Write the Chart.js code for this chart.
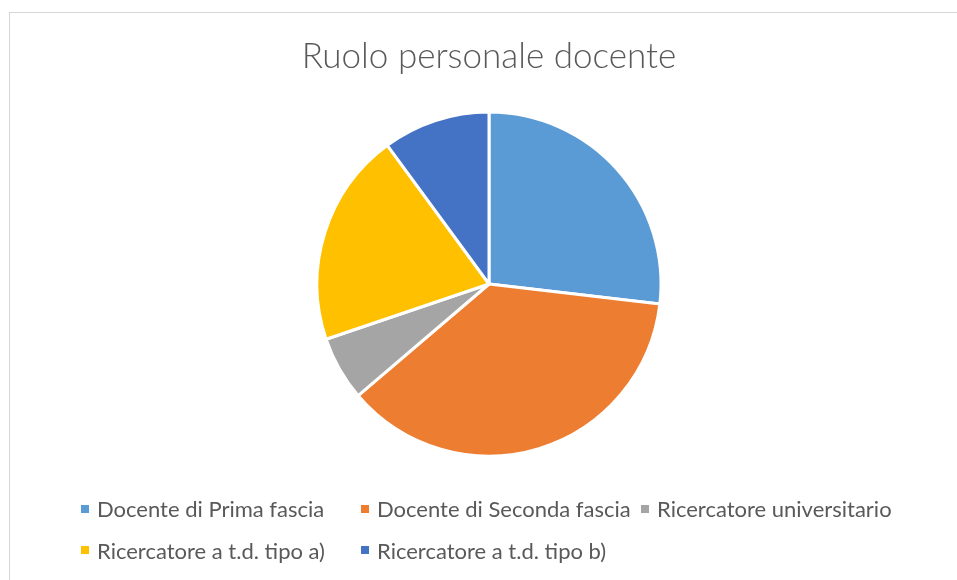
<!DOCTYPE html>
<html lang="it">
<head>
<meta charset="utf-8">
<title>Ruolo personale docente</title>
<script src="https://cdn.jsdelivr.net/npm/chart.js@4.4.1/dist/chart.umd.min.js"></script>
<style>
  html, body { margin: 0; padding: 0; background: #fff; }
  #wrap { position: relative; width: 957px; height: 580px; overflow: hidden; }
  #frame {
    position: absolute; left: 9px; top: 12px; width: 1000px; height: 1000px;
    border: 1px solid #d6d6d6; box-sizing: border-box;
  }
  #pieCanvas { position: absolute; left: 0; top: 0; }
  #legend {
    position: absolute; left: 81px; top: 488px;
    display: grid; grid-template-columns: repeat(3, 280px); grid-auto-rows: 41.5px;
    font-family: Lato, "Open Sans", sans-serif; font-size: 22px; color: #595959;
  }
  .item { display: flex; align-items: center; white-space: nowrap; }
  .box { width: 8px; height: 8px; margin-right: 8px; flex: none; }
</style>
</head>
<body>
<div id="wrap">
  <div id="frame"></div>
  <canvas id="pieCanvas" width="957" height="580"></canvas>
  <div id="legend"></div>
</div>
<script>
// dati
const titleText = "Ruolo personale docente";
const labels = [
  "Docente di Prima fascia",
  "Docente di Seconda fascia",
  "Ricercatore universitario",
  "Ricercatore a t.d. tipo a)",
  "Ricercatore a t.d. tipo b)",
];
const values = [40, 55, 9, 30, 15];
const colors = ["#5B9BD5", "#ED7D31", "#A5A5A5", "#FFC000", "#4472C4"];

/**
 * Legenda HTML a griglia (come in Excel: colonne allineate).
 */
const buildLegend = () => {
  const el = document.getElementById("legend");
  labels.forEach((lab, i) => {
    const item = document.createElement("div");
    item.className = "item";
    const box = document.createElement("span");
    box.className = "box";
    box.style.background = colors[i];
    const txt = document.createElement("span");
    txt.textContent = lab;
    item.appendChild(box);
    item.appendChild(txt);
    el.appendChild(item);
  });
};

const ctx = document.getElementById("pieCanvas").getContext("2d");
const pieChart = new Chart(ctx, {
  type: "pie",
  data: {
    labels: labels,
    datasets: [
      {
        data: values,
        backgroundColor: colors,
        borderColor: "#ffffff",
        borderWidth: 3,
        hoverOffset: 0,
      },
    ],
  },
  options: {
    responsive: false,
    animation: false,
    radius: 172,
    layout: { padding: { left: 21, top: 0, right: 0, bottom: 100 } },
    plugins: {
      title: {
        display: true,
        text: titleText,
        color: "#595959",
        font: { family: "Lato", size: 35, weight: "300", lineHeight: 1.2 },
        padding: { top: 36, bottom: 10 },
      },
      legend: { display: false },
      tooltip: { enabled: false },
    },
  },
});

buildLegend();
</script>
</body>
</html>
